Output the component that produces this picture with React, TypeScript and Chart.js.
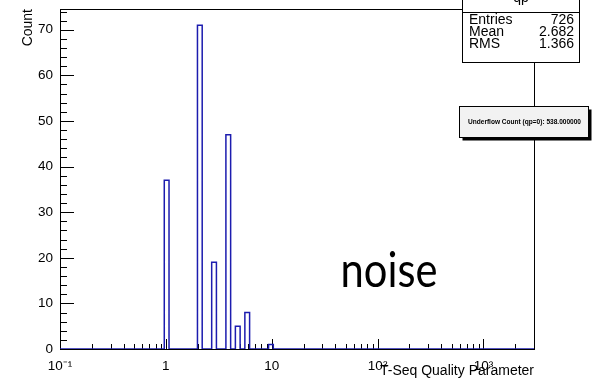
import React, { useEffect, useRef } from 'react';
import { Chart, registerables } from 'chart.js';

Chart.register(...registerables);

// ---- data ----
const qpValues = [1, 2, 3, 4, 5, 6, 10];
const qpCounts = [37, 71, 19, 47, 5, 8, 1];
const xMin = 0.1;
const xMax = 3000;
const nBins = 100;
const xMajorTicks = [0.1, 1, 10, 100, 1000];
const xTickLabels = ['10\u207B\u00B9', '1', '10', '10\u00B2', '10\u00B3'];
const yMajorTicks = [0, 10, 20, 30, 40, 50, 60, 70];
const yMinorStep = 2;
const xTitle = 'T-Seq Quality Parameter';
const yTitle = 'Count';
const statsTitle = 'qp';
const statsNames = ['Entries', 'Mean', 'RMS'];
const statsValues = ['726', '2.682', '1.366'];
const underflowText = 'Underflow Count (qp=0): 538.000000';
const noteText = 'noise';

// ---- histogram (log-spaced bins) ----
const lMin = Math.log10(xMin);
const dL = (Math.log10(xMax) - lMin) / nBins;
const binCounts: number[] = new Array(nBins).fill(0);
qpValues.forEach((v, i) => {
  const b = Math.floor((Math.log10(v) - lMin) / dL + 1e-9);
  binCounts[b] += qpCounts[i];
});
const histPoints: { x: number; y: number }[] = [{ x: xMin, y: 0 }];
binCounts.forEach((c, b) => {
  if (c > 0) {
    const lo = Math.pow(10, lMin + b * dL);
    const hi = Math.pow(10, lMin + (b + 1) * dL);
    histPoints.push({ x: lo, y: 0 }, { x: lo, y: c }, { x: hi, y: c }, { x: hi, y: 0 });
  }
});
histPoints.push({ x: xMax, y: 0 });
const yMax = Math.max(...qpCounts) * 1.05;

const FONT = '"Liberation Sans", Arial, Helvetica, sans-serif';
const HIST_COLOR = 'rgb(28,28,175)';

const rootDecor = {
  id: 'rootDecor',
  beforeDatasetsDraw(chart: any) {
    const { ctx, chartArea: a, scales } = chart;
    const xs = scales.x;
    const ys = scales.y;
    ctx.save();
    ctx.strokeStyle = '#000';
    ctx.lineWidth = 1;
    ctx.beginPath();
    for (let v = 0; v <= yMax; v += yMinorStep) {
      const py = Math.round(ys.getPixelForValue(v)) + 0.5;
      const len = yMajorTicks.includes(v) ? 14 : 7;
      ctx.moveTo(a.left, py);
      ctx.lineTo(a.left + len, py);
    }
    for (let d = -1; d <= 3; d++) {
      for (let m = 1; m <= 9; m++) {
        const v = m * Math.pow(10, d);
        if (v < xMin || v > xMax) continue;
        const px = Math.round(xs.getPixelForValue(v)) + 0.5;
        const len = m === 1 ? 10 : 5;
        ctx.moveTo(px, a.bottom);
        ctx.lineTo(px, a.bottom - len);
      }
    }
    ctx.moveTo(a.left, Math.round(a.top) + 0.5);
    ctx.lineTo(a.right, Math.round(a.top) + 0.5);
    ctx.moveTo(Math.round(a.right) + 0.5, a.top);
    ctx.lineTo(Math.round(a.right) + 0.5, a.bottom);
    ctx.stroke();
    ctx.restore();
  },
  afterDraw(chart: any) {
    const { ctx } = chart;
    ctx.save();
    // stats box
    const bx = 462.5, by = -6.5, bw = 117, bh = 69;
    ctx.fillStyle = '#fff';
    ctx.fillRect(bx, by, bw, bh);
    ctx.strokeStyle = '#000';
    ctx.lineWidth = 1;
    ctx.strokeRect(bx, by, bw, bh);
    ctx.beginPath();
    ctx.moveTo(bx, 12.5);
    ctx.lineTo(bx + bw, 12.5);
    ctx.stroke();
    ctx.fillStyle = '#000';
    ctx.font = `14px ${FONT}`;
    ctx.textAlign = 'center';
    ctx.textBaseline = 'alphabetic';
    ctx.fillText(statsTitle, bx + bw / 2, 2);
    ctx.textBaseline = 'middle';
    statsNames.forEach((n, i) => {
      const y = 20 + i * 12;
      ctx.textAlign = 'left';
      ctx.fillText(n, 469, y);
      ctx.textAlign = 'right';
      ctx.fillText(statsValues[i], 574, y);
    });
    // underflow box with shadow
    const ux = 459.5, uy = 106.5, uw = 129, uh = 31;
    ctx.fillStyle = '#000';
    ctx.fillRect(ux + 3, uy + 3, uw, uh);
    ctx.fillStyle = '#f2f2f2';
    ctx.fillRect(ux, uy, uw, uh);
    ctx.strokeRect(ux, uy, uw, uh);
    ctx.fillStyle = '#000';
    ctx.font = `bold 10px ${FONT}`;
    const w10 = ctx.measureText(underflowText).width;
    const fs = (10 * 113) / w10;
    ctx.font = `bold ${fs.toFixed(2)}px ${FONT}`;
    ctx.textAlign = 'center';
    ctx.textBaseline = 'middle';
    ctx.fillText(underflowText, ux + uw / 2 + 0.5, uy + uh / 2);
    // note text
    ctx.font = `41px Lato, "Open Sans", ${FONT}`;
    const mw = ctx.measureText(noteText).width;
    const sx = 97 / mw;
    ctx.translate(340.5, 287);
    ctx.scale(sx, 1.18);
    ctx.textAlign = 'left';
    ctx.textBaseline = 'alphabetic';
    ctx.fillText(noteText, 0, 0);
    ctx.restore();
  },
};

export default function App() {
  const ref = useRef<HTMLCanvasElement>(null);
  useEffect(() => {
    document.body.style.margin = '0';
    const chart = new Chart(ref.current as HTMLCanvasElement, {
      type: 'line',
      data: {
        datasets: [
          {
            data: histPoints,
            borderColor: HIST_COLOR,
            borderWidth: 1.5,
            pointRadius: 0,
            tension: 0,
            fill: false,
          },
        ],
      },
      options: {
        animation: false,
        responsive: false,
        devicePixelRatio: 1,
        parsing: false,
        layout: { padding: { left: 0, top: 9, right: 59, bottom: 0 } },
        plugins: { legend: { display: false }, tooltip: { enabled: false } },
        scales: {
          x: {
            type: 'logarithmic',
            min: xMin,
            max: xMax,
            afterBuildTicks: (s: any) => {
              s.ticks = xMajorTicks.map((v) => ({ value: v }));
            },
            afterFit: (s: any) => {
              s.height = 32;
              s.paddingLeft = 0;
              s.paddingRight = 0;
            },
            ticks: {
              autoSkip: false,
              maxRotation: 0,
              padding: 9,
              color: '#000',
              font: { family: FONT, size: 13.5 },
              callback: (_v: any, i: number) => xTickLabels[i],
            },
            grid: { display: false, drawTicks: false },
            border: { display: true, color: '#000', width: 1 },
            title: {
              display: true,
              text: xTitle,
              align: 'end',
              color: '#000',
              font: { family: FONT, size: 14 },
              padding: { top: 0, bottom: 1.6 },
            },
          },
          y: {
            type: 'linear',
            min: 0,
            max: yMax,
            afterBuildTicks: (s: any) => {
              s.ticks = yMajorTicks.map((v) => ({ value: v }));
            },
            afterFit: (s: any) => {
              s.width = 60;
              s.paddingTop = 0;
              s.paddingBottom = 0;
            },
            ticks: {
              padding: 7,
              color: '#000',
              font: { family: FONT, size: 13.5 },
              callback: (v: any) => String(v),
            },
            grid: { display: false, drawTicks: false },
            border: { display: true, color: '#000', width: 1 },
            title: {
              display: true,
              text: yTitle,
              align: 'end',
              color: '#000',
              font: { family: FONT, size: 14 },
              padding: { top: 19.6, bottom: 0 },
            },
          },
        },
      } as any,
      plugins: [rootDecor],
    });
    return () => chart.destroy();
  }, []);
  return (
    <div style={{ position: 'fixed', left: 0, top: 0, width: 593, height: 381, background: '#fff' }}>
      <canvas ref={ref} width={593} height={381} />
    </div>
  );
}
